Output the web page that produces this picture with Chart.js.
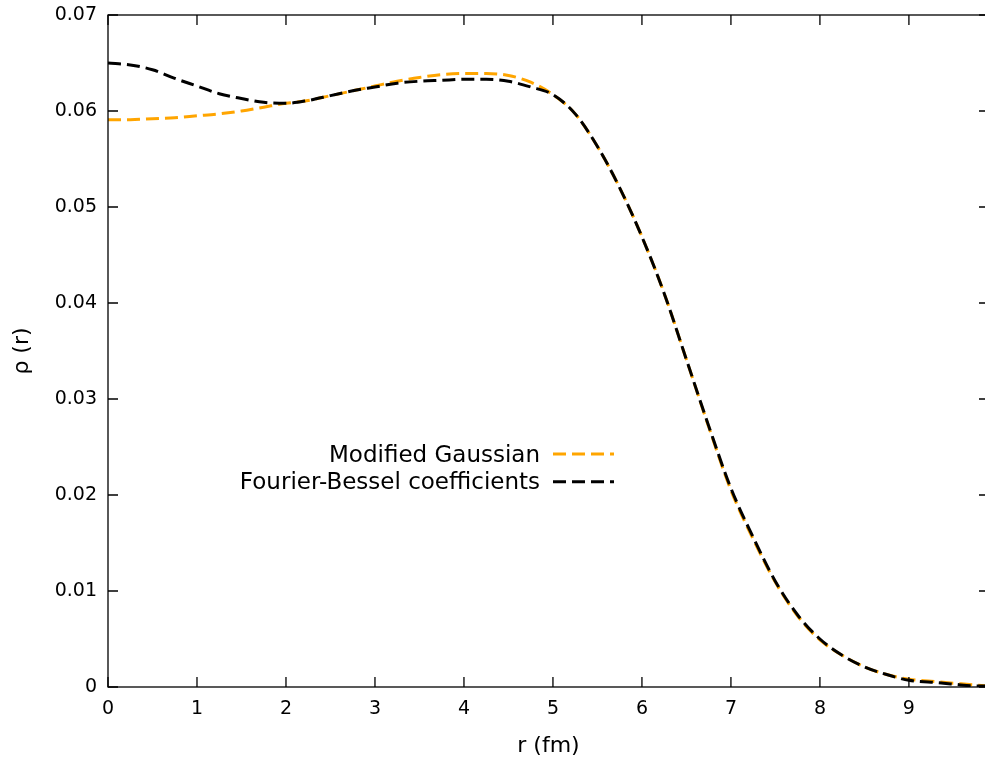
<!DOCTYPE html>
<html><head><meta charset="utf-8">
<script src="https://cdn.jsdelivr.net/npm/chart.js@4/dist/chart.umd.min.js"></script>
<style>html,body{margin:0;padding:0;overflow:hidden;background:#fff;width:985px;height:760px}canvas{display:block}</style>
</head><body><canvas id="c" width="995" height="760"></canvas>
<script>
const radii = [0,0.25,0.5,0.75,1,1.25,1.5,1.75,2,2.25,2.5,2.75,3,3.25,3.5,3.75,4,4.25,4.5,4.75,5,5.25,5.5,5.75,6,6.25,6.5,6.75,7,7.25,7.5,7.75,8,8.25,8.5,8.75,9,9.25,9.5,9.75,9.9];
const modifiedGaussian = [0.0591,0.0591,0.0592,0.0593,0.0595,0.0597,0.0600,0.0604,0.0608,0.0611,0.0616,0.0621,0.0626,0.0631,0.0635,0.0638,0.0639,0.0639,0.0637,0.0630,0.0617,0.0597,0.0563,0.0520,0.0469,0.0410,0.0341,0.0271,0.0205,0.0154,0.0109,0.0074,0.0049,0.0033,0.0021,0.0013,0.0008,0.0006,0.0004,0.0002,0.0001];
const fourierBessel = [0.0650,0.0648,0.0643,0.0634,0.0626,0.0618,0.0613,0.0609,0.0608,0.0611,0.0616,0.0621,0.0625,0.0629,0.0631,0.0632,0.0633,0.0633,0.0631,0.0625,0.0617,0.0597,0.0563,0.0520,0.0469,0.0410,0.0341,0.0272,0.0207,0.0156,0.0110,0.0075,0.0050,0.0033,0.0021,0.0013,0.0007,0.0005,0.0003,0.0001,0.0001];
const seriesLabels = ["Modified Gaussian", "Fourier-Bessel coefficients"];
const xTicks = [0,1,2,3,4,5,6,7,8,9];
const xTickLabels = ["0","1","2","3","4","5","6","7","8","9"];
const yTicks = [0,0.01,0.02,0.03,0.04,0.05,0.06,0.07];
const yTickLabels = ["0","0.01","0.02","0.03","0.04","0.05","0.06","0.07"];
const xTitle = "r (fm)";
const yTitle = "ρ (r)";

const FONT = "'DejaVu Sans', sans-serif";

const framePlugin = {
  id: 'frame',
  afterDatasetsDraw(chart) {
    const {ctx, chartArea: a, scales} = chart;
    ctx.save();
    ctx.strokeStyle = '#000';
    ctx.lineWidth = 1.3;
    ctx.setLineDash([]);
    ctx.strokeRect(a.left, a.top, a.right - a.left, a.bottom - a.top);
    ctx.beginPath();
    const T = 10;
    xTicks.forEach(v => {
      const x = scales.x.getPixelForValue(v);
      ctx.moveTo(x, a.bottom); ctx.lineTo(x, a.bottom - T);
      ctx.moveTo(x, a.top); ctx.lineTo(x, a.top + T);
    });
    yTicks.forEach(v => {
      const y = scales.y.getPixelForValue(v);
      ctx.moveTo(a.left, y); ctx.lineTo(a.left + T, y);
      ctx.moveTo(a.right, y); ctx.lineTo(a.right - T, y);
    });
    ctx.stroke();
    ctx.font = "23px " + FONT;
    ctx.textAlign = 'right';
    ctx.textBaseline = 'alphabetic';
    chart.data.datasets.forEach(ds => {
      const idx = seriesLabels.indexOf(ds.label);
      const yb = 461.7 + idx * 27.7;
      const yl = 454 + idx * 27.7;
      ctx.fillStyle = '#000';
      ctx.fillText(ds.label, 540, yb);
      ctx.strokeStyle = ds.borderColor;
      ctx.lineWidth = ds.borderWidth;
      ctx.setLineDash(ds.borderDash);
      ctx.beginPath();
      ctx.moveTo(553, yl); ctx.lineTo(614, yl);
      ctx.stroke();
    });
    ctx.restore();
  }
};

new Chart(document.getElementById('c'), {
  type: 'line',
  data: {
    datasets: [
      {
        label: seriesLabels[0],
        data: radii.map((r, i) => ({x: r, y: modifiedGaussian[i]})),
        borderColor: '#ffa500',
        borderWidth: 3,
        borderDash: [13, 6],
        pointRadius: 0,
        fill: false,
        cubicInterpolationMode: 'monotone',
        order: 2
      },
      {
        label: seriesLabels[1],
        data: radii.map((r, i) => ({x: r, y: fourierBessel[i]})),
        borderColor: '#000000',
        borderWidth: 3,
        borderDash: [13, 6],
        pointRadius: 0,
        fill: false,
        cubicInterpolationMode: 'monotone',
        order: 1
      }
    ]
  },
  options: {
    responsive: false,
    animation: false,
    devicePixelRatio: 1,
    layout: {padding: {top: 15, right: 6, left: 0, bottom: 0}},
    plugins: {legend: {display: false}, tooltip: {enabled: false}},
    scales: {
      x: {
        type: 'linear', min: 0, max: 9.9,
        afterBuildTicks: s => { s.ticks = xTicks.map(v => ({value: v})); },
        afterFit: s => { s.height = 73; s.paddingLeft = 0; s.paddingRight = 0; },
        grid: {display: false, drawTicks: false, tickLength: 0},
        border: {display: false},
        ticks: {
          padding: 11, color: '#000', font: {family: FONT, size: 19},
          maxRotation: 0, autoSkip: false,
          callback: v => xTickLabels[xTicks.indexOf(v)]
        },
        title: {display: true, text: xTitle, color: '#000', font: {family: FONT, size: 22}, padding: {top: 0, bottom: 1}}
      },
      y: {
        type: 'linear', min: 0, max: 0.07,
        afterBuildTicks: s => { s.ticks = yTicks.map(v => ({value: v})); },
        afterFit: s => { s.width = 108; s.paddingTop = 0; s.paddingBottom = 0; },
        grid: {display: false, drawTicks: false, tickLength: 0},
        border: {display: false},
        ticks: {
          padding: 11, color: '#000', font: {family: FONT, size: 19},
          autoSkip: false,
          callback: v => yTickLabels[yTicks.indexOf(v)]
        },
        title: {display: true, text: yTitle, color: '#000', font: {family: FONT, size: 22}, padding: {top: 9, bottom: 0}}
      }
    }
  },
  plugins: [framePlugin]
});
</script>
</body></html>
